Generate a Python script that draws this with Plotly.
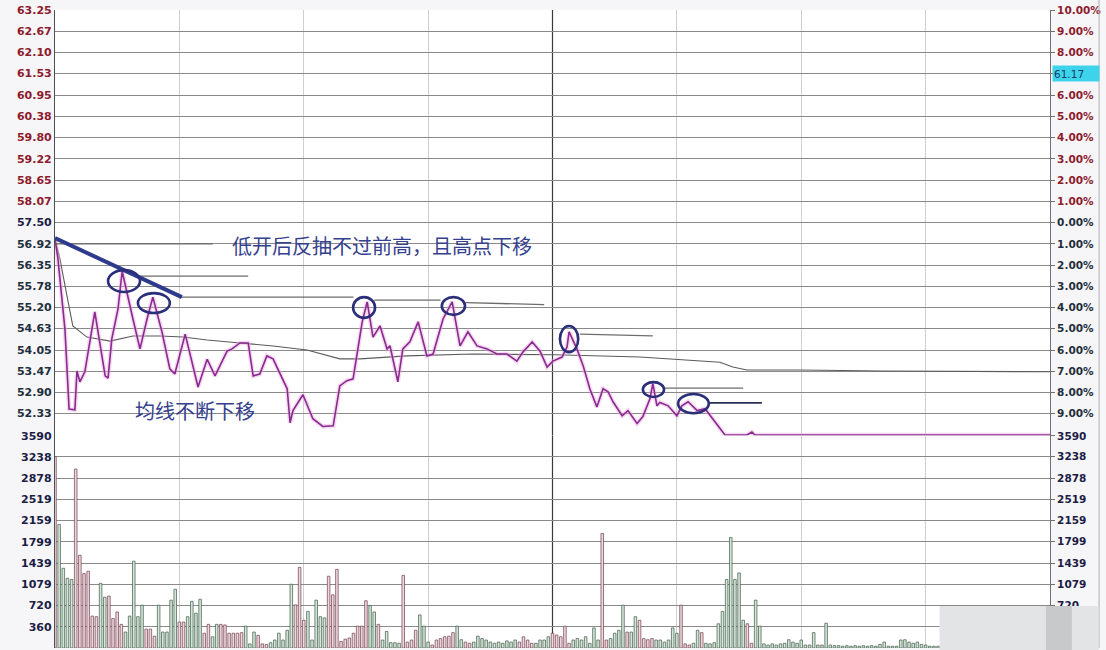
import numpy as np
import plotly.graph_objects as go

# ---------------- data ----------------
# minute index (0..240 of the trading day) and price
price_min = [0, 0.7, 2.4, 3.4, 4.8, 5.3, 6.0, 7.2, 9.6, 12.1, 12.8, 13.7, 15.2, 16.2, 18.8, 20.5,
             22.2, 23.6, 25.8, 27.7, 28.9, 31.4, 34.5, 36.7, 38.6, 41.5, 42.7, 44.6, 46.6, 47.8,
             49.4, 51.1, 52.6, 56.0, 56.7, 57.4, 59.8, 62.2, 64.6, 67.1, 68.7, 70.4, 71.9, 74.1,
             75.3, 76.7, 78.4, 80.1, 80.8, 82.7, 83.9, 85.6, 87.6, 89.7, 91.2, 93.6, 95.8, 97.7,
             99.6, 101.8, 104.2, 106.6, 109.0, 111.4, 112.9, 115.1, 117.0, 118.7, 120.1, 122.3,
             123.5, 124.0, 125.9, 127.4, 129.0, 130.7, 132.2, 133.4, 134.6, 136.8, 138.2, 140.4,
             141.8, 143.5, 144.2, 145.2, 145.9, 147.9, 150.0, 151.2, 152.7, 154.9, 156.8, 158.7,
             161.6, 166.9, 168.1, 168.8, 240]
price_val = [57.05, 56.53, 54.61, 52.45, 52.43, 53.48, 53.19, 53.46, 55.08, 53.35, 53.29, 54.35,
             55.16, 56.18, 54.89, 54.08, 54.89, 55.48, 54.54, 53.54, 53.40, 54.48, 53.05, 53.80,
             53.35, 54.02, 54.08, 54.24, 54.24, 53.35, 53.40, 53.89, 53.81, 53.00, 52.08, 52.41,
             52.84, 52.19, 51.98, 52.00, 53.08, 53.22, 53.27, 54.81, 55.35, 54.40, 54.70, 54.08,
             54.16, 53.19, 54.08, 54.27, 54.81, 53.89, 53.94, 54.89, 55.35, 54.16, 54.54, 54.16,
             54.08, 53.94, 53.94, 53.75, 54.00, 54.27, 54.02, 53.59, 53.75, 53.86, 54.13, 54.54,
             54.08, 53.62, 53.00, 52.51, 53.00, 52.92, 52.65, 52.27, 52.41, 52.06, 52.25, 52.73,
             53.14, 52.54, 52.63, 52.54, 52.27, 52.54, 52.65, 52.41, 52.46, 52.19, 51.75, 51.75,
             51.83, 51.75, 51.75]

avg_min = [0, 1.2, 2.9, 4.3, 7.7, 13.3, 18.8, 25.3, 30.9, 36.7, 44.6, 52.6, 60.8, 68.7, 73.6,
           84.9, 100.8, 120.6, 141.1, 150.8, 160.4, 163.5, 166.9, 179.7, 199.7, 240]
avg_val = [57.05, 56.51, 55.51, 54.70, 54.40, 54.29, 54.43, 54.43, 54.40, 54.32, 54.24, 54.16,
           54.05, 53.81, 53.81, 53.89, 53.94, 53.92, 53.86, 53.78, 53.72, 53.59, 53.51, 53.51,
           53.48, 53.46]

volume = [3240, 2090, 1350, 1180, 1160, 3030, 1570, 1260, 1300, 540,
          530, 1095, 860, 880, 500, 610, 400, 270, 540, 1470,
          530, 725, 320, 320, 200, 725, 270, 270, 810, 995,
          440, 440, 530, 790, 590, 825, 250, 400, 190, 400,
          400, 390, 250, 250, 250, 260, 370, 70, 270, 215,
          70, 60, 90, 135, 250, 135, 300, 1080, 730, 1365,
          470, 620, 135, 810, 530, 510, 1215, 900, 1330, 110,
          150, 170, 250, 370, 370, 800, 720, 610, 400, 135,
          280, 90, 90, 80, 1230, 100, 135, 300, 560, 370,
          100, 50, 135, 160, 190, 200, 260, 370, 140, 100,
          80, 100, 200, 160, 135, 100, 80, 100, 80, 120,
          100, 135, 100, 190, 135, 80, 80, 135, 135, 190,
          250, 220, 190, 370, 80, 135, 160, 135, 190, 80,
          340, 135, 1940, 135, 160, 250, 300, 725, 270, 270,
          530, 470, 160, 140, 160, 135, 135, 100, 135, 340,
          250, 725, 70, 50, 80, 300, 260, 80, 70, 90,
          410, 620, 1160, 1870, 1160, 1270, 470, 410, 80, 810,
          370, 70, 50, 70, 50, 70, 80, 140, 100, 80,
          135, 50, 50, 260, 50, 50, 420, 50, 40, 40,
          30, 40, 30, 40, 30, 40, 30, 40, 30, 60,
          100, 30, 30, 30, 135, 140, 100, 80, 100, 60,
          50, 30, 30, 30, 30, 30, 30, 30, 30, 30,
          30, 30, 30, 30, 30, 30, 30, 30, 30, 30,
          30, 30, 30, 30, 30, 30, 30, 30, 30, 30,
          30]
minutes = list(range(len(volume)))

price_labels = ["63.25", "62.67", "62.10", "61.53", "60.95", "60.38", "59.80", "59.22", "58.65",
                "58.07", "57.50", "56.92", "56.35", "55.78", "55.20", "54.63", "54.05", "53.47",
                "52.90", "52.33"]
pct_labels = ["10.00%", "9.00%", "8.00%", "", "6.00%", "5.00%", "4.00%", "3.00%", "2.00%",
              "1.00%", "0.00%", "1.00%", "2.00%", "3.00%", "4.00%", "5.00%", "6.00%", "7.00%",
              "8.00%", "9.00%"]
vol_labels = ["360", "720", "1079", "1439", "1799", "2159", "2519", "2878", "3238", "3590"]
last_price_tag = "61.17"

note_main = "低开后反抽不过前高，且高点下移"
note_avg = "均线不断下移"

# annotation geometry (data units: minute, price)
trend_line = [(0, 57.08), (30.6, 55.48)]
circles = [(12.8, 20.5, 55.62, 56.21), (20.0, 27.7, 55.05, 55.59), (71.9, 77.2, 54.92, 55.48),
           (93.3, 98.9, 55.00, 55.48), (121.8, 126.2, 53.99, 54.70), (141.8, 146.9, 52.78, 53.18),
           (150.3, 157.7, 52.34, 52.86)]
ref_lines = [(0, 38.1, 56.92, 56.92), (20.5, 46.6, 56.05, 56.05), (30.2, 72.0, 55.48, 55.48),
             (77.0, 93.0, 55.40, 55.40), (99.0, 118.0, 55.33, 55.28), (126.6, 144.2, 54.48, 54.43),
             (146.7, 166.0, 53.02, 53.02)]
dark_ref_line = (157.5, 170.5, 52.62, 52.62)

# ---------------- styling ----------------
RED = "#8e1b2d"
DARK = "#1f2f3c"
NAVY = "#1c1c44"
base = 57.50

price_vals = [float(t) for t in price_labels]
left_price_text = []
for t, v in zip(price_labels, price_vals):
    c = RED if v > base + 1e-6 else (NAVY if abs(v - base) < 1e-6 else DARK)
    left_price_text.append(f'<span style="color:{c}">{t}</span>')
right_pct_text = []
for t, v in zip(pct_labels, price_vals):
    c = RED if v > base + 1e-6 else DARK
    right_pct_text.append(f'<span style="color:{c}">{t}</span>' if t else "")
vol_vals = [float(t) for t in vol_labels]

# bar colours from minute-to-minute price direction
pm = np.interp(minutes, price_min, price_val)
up = [True] + [pm[i] > pm[i - 1] for i in range(1, len(pm))]
fills = ["#efd6db" if u else "#d3e8d6" for u in up]
edges = ["#6e3f4e" if u else "#41574a" for u in up]

fig = go.Figure()
fig.add_trace(go.Bar(x=minutes, y=volume, yaxis="y2", width=0.62,
                     marker=dict(color=fills, line=dict(color=edges, width=0.7)),
                     hoverinfo="skip", showlegend=False))
fig.add_trace(go.Scatter(x=avg_min, y=avg_val, mode="lines", line=dict(color="#5b5b5b", width=1.1),
                         hoverinfo="skip", showlegend=False))
fig.add_trace(go.Scatter(x=price_min, y=price_val, mode="lines",
                         line=dict(color="rgba(235,170,225,0.45)", width=4.5),
                         hoverinfo="skip", showlegend=False))
fig.add_trace(go.Scatter(x=price_min, y=price_val, mode="lines", line=dict(color="#882a8e", width=1.6),
                         hoverinfo="skip", showlegend=False))
# invisible traces to anchor right axes
fig.add_trace(go.Scatter(x=price_min, y=price_val, yaxis="y3", mode="lines", line=dict(width=0),
                         opacity=0, hoverinfo="skip", showlegend=False))
fig.add_trace(go.Scatter(x=minutes, y=volume, yaxis="y4", mode="lines", line=dict(width=0),
                         opacity=0, hoverinfo="skip", showlegend=False))

shapes = []
# midday divider in both panes
shapes.append(dict(type="line", xref="x", yref="y", x0=120, x1=120, y0=51.642, y1=63.25,
                   line=dict(color="#3a3a3a", width=1.2), layer="below"))
shapes.append(dict(type="line", xref="x", yref="y2", x0=120, x1=120, y0=0, y1=3598,
                   line=dict(color="#3a3a3a", width=1.2), layer="below"))
for (x0, x1, y0, y1) in ref_lines:
    shapes.append(dict(type="line", xref="x", yref="y", x0=x0, x1=x1, y0=y0, y1=y1,
                       line=dict(color="#6d6d6d", width=1.3)))
shapes.append(dict(type="line", xref="x", yref="y", x0=dark_ref_line[0], x1=dark_ref_line[1],
                   y0=dark_ref_line[2], y1=dark_ref_line[3], line=dict(color="#2b2f55", width=1.8)))
shapes.append(dict(type="line", xref="x", yref="y", x0=trend_line[0][0], y0=trend_line[0][1],
                   x1=trend_line[1][0], y1=trend_line[1][1], line=dict(color="#2e3a8c", width=4)))
for (x0, x1, y0, y1) in circles:
    shapes.append(dict(type="circle", xref="x", yref="y", x0=x0, x1=x1, y0=y0, y1=y1,
                       line=dict(color="#2b2f7a", width=2.6)))
# right frame edge
shapes.append(dict(type="line", xref="paper", yref="paper", x0=1.0493, x1=1.0493, y0=0, y1=1.016,
                   line=dict(color="#b0b0b0", width=1)))
# watermark patch bottom right
shapes.append(dict(type="rect", xref="paper", yref="paper", x0=0.889, x1=1.049, y0=-0.004, y1=0.066,
                   fillcolor="#e3e4e5", line=dict(width=0), layer="above"))
shapes.append(dict(type="rect", xref="paper", yref="paper", x0=0.996, x1=1.022, y0=-0.004, y1=0.066,
                   fillcolor="#c8c9ca", line=dict(width=0), layer="above"))

tickfont = dict(family="DejaVu Sans", size=11, color=DARK, weight="bold")
rfont = dict(family="DejaVu Sans", size=10.5, color=DARK, weight="bold")

fig.update_layout(
    width=1106, height=650,
    margin=dict(l=55, r=56, t=10, b=2, autoexpand=False),
    paper_bgcolor="#f6f6f8", plot_bgcolor="#ffffff",
    showlegend=False,
    xaxis=dict(range=[0, 240], tickvals=[30, 60, 90, 150, 180, 210], showticklabels=False,
               showgrid=True, gridcolor="#cfcfcf", gridwidth=1, zeroline=False, ticks="",
               showline=False, automargin=False),
    yaxis=dict(domain=[0.3276, 1], range=[51.642, 63.25], tickvals=price_vals,
               ticktext=left_price_text, showgrid=True, gridcolor="#8a8a8a", gridwidth=1,
               zeroline=False, showline=True, linecolor="#505050", linewidth=1.2, ticks="",
               tickfont=tickfont, anchor="x", automargin=False, ticklabeloverflow="allow"),
    yaxis2=dict(domain=[0, 0.3331], range=[0, 3598], tickvals=vol_vals,
                ticktext=[f'<span style="color:{NAVY}">{t}</span>' for t in vol_labels],
                showgrid=True, gridcolor="#8a8a8a", gridwidth=1, zeroline=False, showline=True,
                linecolor="#505050", linewidth=1.2, ticks="", tickfont=tickfont, anchor="x",
                automargin=False, ticklabeloverflow="allow"),
    yaxis3=dict(overlaying="y", side="right", range=[51.642, 63.25], tickvals=price_vals,
                ticktext=right_pct_text, showgrid=False, zeroline=False, showline=True,
                linecolor="#707070", ticks="outside", ticklen=4, tickcolor="#707070",
                tickfont=rfont, anchor="x", automargin=False, ticklabeloverflow="allow"),
    yaxis4=dict(overlaying="y2", side="right", range=[0, 3598], tickvals=vol_vals[1:],
                ticktext=[f'<span style="color:{NAVY}">{t}</span>' for t in vol_labels[1:]],
                showgrid=False, zeroline=False, showline=True, linecolor="#707070",
                ticks="outside", ticklen=4, tickcolor="#707070",
                tickfont=rfont, anchor="x", automargin=False, ticklabeloverflow="allow"),
    shapes=shapes,
    annotations=[
        dict(text=note_main, xref="x", yref="y", x=42.2, y=56.89, xanchor="left", yanchor="middle",
             showarrow=False, font=dict(family="Noto Sans CJK SC", size=20, color="#35408e")),
        dict(text=note_avg, xref="x", yref="y", x=18.8, y=52.40, xanchor="left", yanchor="middle",
             showarrow=False, font=dict(family="Noto Sans CJK SC", size=20, color="#35408e")),
        dict(text=last_price_tag, xref="paper", yref="y", x=1.002, y=61.53, xanchor="left",
             yanchor="middle", showarrow=False, bgcolor="#3dd3ea", width=44, height=13, align="left",
             font=dict(family="DejaVu Sans", size=10.5, color="#1a3a6a")),
    ],
)

# remove the default 8px page margin so the 1106x650 figure fills the window exactly
fig.write_html("out.html", config={"displayModeBar": False},
               post_script="document.body.style.margin='0px';document.body.style.overflow='hidden';")
